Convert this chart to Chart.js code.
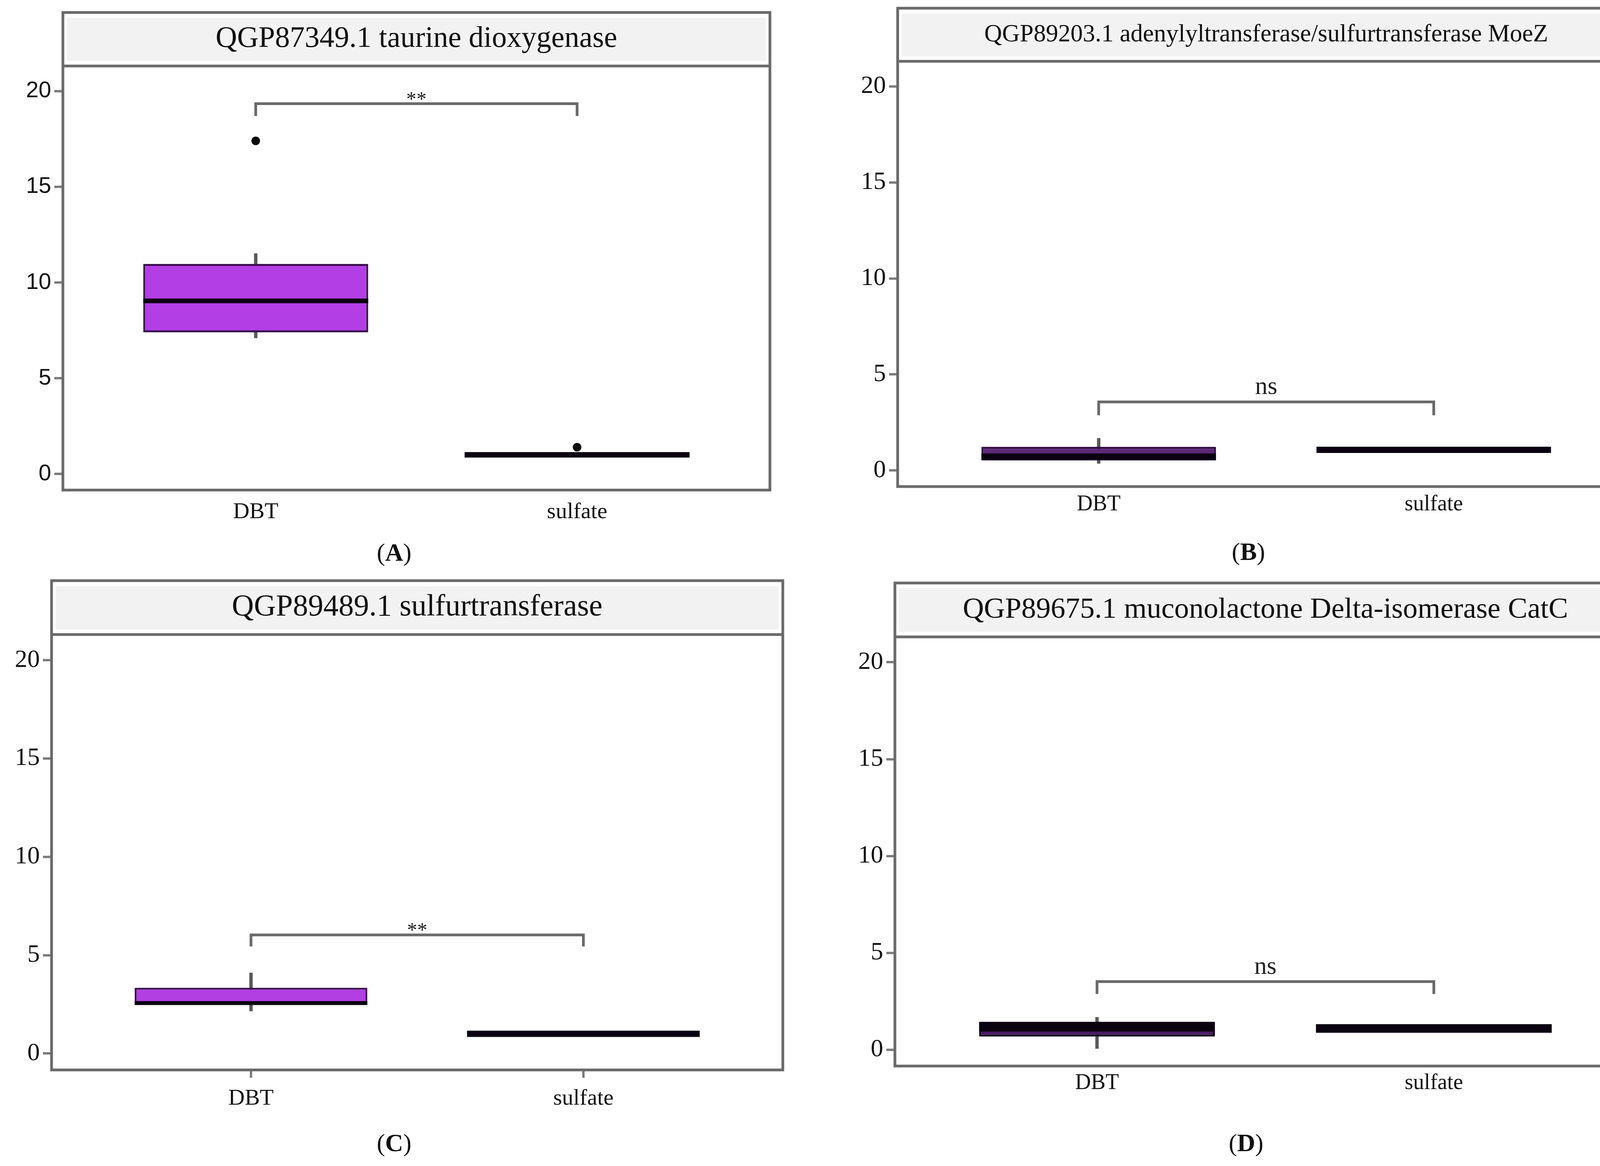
<!DOCTYPE html>
<html>
<head>
<meta charset="utf-8">
<script src="https://cdn.jsdelivr.net/npm/chart.js@4.4.1/dist/chart.umd.min.js"></script>
<style>
  html, body { margin: 0; padding: 0; background: #fff; }
  #page { position: relative; width: 4230px; height: 2986px; overflow: hidden; background: #fff; }
  canvas { position: absolute; }
  .tag { position: absolute; font-family: 'Liberation Serif', serif; font-size: 64px; color: #111;
         transform: translate(-50%, -50%); white-space: nowrap; }
</style>
</head>
<body>
<div id="page"></div>
<script>
// ---- data ----
const categories = ['DBT', 'sulfate'];
const panelTitles = [
  'QGP87349.1 taurine dioxygenase',
  'QGP89203.1 adenylyltransferase/sulfurtransferase MoeZ',
  'QGP89489.1 sulfurtransferase',
  'QGP89675.1 muconolactone Delta-isomerase CatC'
];
const panelLetters = ['A', 'B', 'C', 'D'];
const yTickValues = [0, 5, 10, 15, 20];

// one row per panel, one value per category [DBT, sulfate]
const q1Values     = [[7.40, 1.00], [0.52, 1.07], [2.50, 1.00], [0.68, 1.10]];
const q3Values     = [[10.97, 1.00], [1.23, 1.07], [3.34, 1.00], [1.45, 1.10]];
const medianValues = [[9.04, 1.00], [0.72, 1.07], [2.56, 1.00], [1.18, 1.10]];
const whiskerLow   = [[7.10, null], [0.36, null], [2.15, null], [0.06, null]];
const whiskerHigh  = [[11.52, null], [1.68, null], [4.10, null], [1.68, null]];
const outlierValues = [[[17.40], [1.40]], [[], []], [[], []], [[], []]];

const bracketTop = [19.34, 3.57, 6.03, 3.52];
const bracketLeg = [18.70, 2.87, 5.44, 2.88];
const sigLabels = ['**', 'ns', '**', 'ns'];

// ---- layout / style ----
const Y_MIN = -0.84, Y_MAX = 21.31;
const X_AXIS_H = 120;
const BOX_W = 0.7;
const serif = 'Liberation Serif';

const panels = [
  { L: 161, R: 1974, T: 32, S: 169, B: 1255, yW: 150, titleSize: 76, yFont: { family: 'Liberation Sans', size: 58 },
    xFont: 58, xPad: 22, xTick: 0, fill: '#b43ee6', edge: '#3b1050', medW: [12, 14], tag: [1009, 1415] },
  { L: 2298, R: 4185, T: 21, S: 157, B: 1246, yW: 150, titleSize: 63, yFont: { family: serif, size: 64 },
    xFont: 56, xPad: 13, xTick: 0, fill: '#5c2878', edge: '#2a0a40', medW: [16, 16], tag: [3196, 1413] },
  { L: 132, R: 2004, T: 1487, S: 1625, B: 2740, yW: 125, titleSize: 78, yFont: { family: serif, size: 64 },
    xFont: 58, xPad: 19, xTick: 20, fill: '#b23fe2', edge: '#3b1050', medW: [10, 16], tag: [1009, 2927] },
  { L: 2291, R: 4188, T: 1493, S: 1631, B: 2730, yW: 150, titleSize: 75, yFont: { family: serif, size: 64 },
    xFont: 56, xPad: 11, xTick: 0, fill: '#4a1a66', edge: '#0a0010', medW: [24, 22], tag: [3190, 2927] }
];

// strip behind the title and the grey frame round each panel
const panelFrame = {
  id: 'panelFrame',
  beforeDraw(chart) {
    const { ctx, chartArea: a } = chart;
    const tb = chart.titleBlock;
    ctx.save();
    ctx.fillStyle = '#f2f2f2';
    ctx.fillRect(a.left + 10, tb.top + 14, a.right - a.left - 20, tb.bottom - tb.top - 27);
    ctx.restore();
  },
  afterDraw(chart) {
    const { ctx, chartArea: a } = chart;
    const tb = chart.titleBlock;
    ctx.save();
    ctx.strokeStyle = '#6a6a6a';
    ctx.lineWidth = 7;
    ctx.strokeRect(a.left, tb.top, a.right - a.left, a.bottom - tb.top);
    ctx.beginPath();
    ctx.moveTo(a.left, a.top);
    ctx.lineTo(a.right, a.top);
    ctx.stroke();
    ctx.restore();
  }
};

// significance text above the bracket
const sigLabel = {
  id: 'sigLabel',
  afterDatasetsDraw(chart, args, opts) {
    const { ctx, scales: { x, y } } = chart;
    ctx.save();
    ctx.fillStyle = '#222';
    ctx.font = opts.size + 'px "' + serif + '"';
    ctx.textAlign = 'center';
    ctx.textBaseline = 'alphabetic';
    ctx.fillText(opts.text, x.getPixelForValue(1.5), y.getPixelForValue(opts.at) + opts.dy);
    ctx.restore();
  }
};

const halfBox = (chart) => {
  const x = chart.scales.x;
  return x.getPixelForValue(1 + BOX_W / 2) - x.getPixelForValue(1);
};

const page = document.getElementById('page');
const xs = categories.map((c, k) => k + 1);

panels.forEach((p, i) => {
  const width = p.R - p.L + p.yW + 8;
  const height = p.B - p.T + 6 + X_AXIS_H;
  const canvas = document.createElement('canvas');
  canvas.width = width;
  canvas.height = height;
  canvas.style.left = (p.L - p.yW) + 'px';
  canvas.style.top = (p.T - 6) + 'px';
  canvas.style.width = width + 'px';
  canvas.style.height = height + 'px';
  page.appendChild(canvas);

  const tag = document.createElement('div');
  tag.className = 'tag';
  tag.style.left = p.tag[0] + 'px';
  tag.style.top = p.tag[1] + 'px';
  tag.innerHTML = '(<b>' + panelLetters[i] + '</b>)';
  page.appendChild(tag);

  const stripPad = (p.S - p.T - p.titleSize) / 2;
  const isStars = sigLabels[i] === '**';

  new Chart(canvas, {
    type: 'bar',
    data: {
      datasets: [
        {
          type: 'scatter',
          data: xs.map((x, k) => ({ x, y: medianValues[i][k] })),
          pointStyle: 'line',
          pointRadius: (c) => halfBox(c.chart),
          pointHoverRadius: (c) => halfBox(c.chart),
          pointBorderWidth: (c) => p.medW[c.dataIndex],
          pointBorderColor: '#0a0010',
          pointBackgroundColor: 'rgba(0,0,0,0)'
        },
        {
          type: 'scatter',
          data: xs.flatMap((x, k) => outlierValues[i][k].map(v => ({ x, y: v }))),
          pointRadius: 11,
          pointBackgroundColor: '#0a0a0a',
          pointBorderWidth: 0
        },
        {
          type: 'line',
          data: [
            { x: 1, y: bracketLeg[i] }, { x: 1, y: bracketTop[i] },
            { x: 2, y: bracketTop[i] }, { x: 2, y: bracketLeg[i] }
          ],
          borderColor: '#6a6a6a',
          borderWidth: 7,
          pointRadius: 0,
          tension: 0,
          fill: false,
          borderJoinStyle: 'miter'
        },
        {
          type: 'bar',
          data: xs.map((x, k) => ({ x, y: [q1Values[i][k], q3Values[i][k]] })),
          backgroundColor: p.fill,
          borderColor: p.edge,
          borderWidth: 5,
          borderSkipped: false,
          grouped: false,
          categoryPercentage: 1,
          barPercentage: BOX_W
        },
        {
          type: 'bar',
          data: xs.filter((x, k) => whiskerLow[i][k] !== null)
                  .map(x => ({ x, y: [whiskerLow[i][x - 1], whiskerHigh[i][x - 1]] })),
          backgroundColor: '#5a5a5a',
          borderWidth: 0,
          grouped: false,
          barThickness: 8
        }
      ]
    },
    options: {
      responsive: false,
      animation: false,
      devicePixelRatio: 1,
      layout: { padding: { top: 6, right: 8, left: 0, bottom: 0 } },
      plugins: {
        legend: { display: false },
        tooltip: { enabled: false },
        title: {
          display: true,
          text: panelTitles[i],
          fullSize: false,
          color: '#111',
          font: { family: serif, size: p.titleSize, lineHeight: 1, weight: 'normal' },
          padding: { top: stripPad, bottom: stripPad }
        },
        sigLabel: {
          text: sigLabels[i],
          at: bracketTop[i],
          size: isStars ? 52 : 64,
          dy: isStars ? 5 : -20
        }
      },
      scales: {
        x: {
          type: 'linear',
          min: 0.4,
          max: 2.6,
          offset: false,
          afterBuildTicks: (s) => { s.ticks = xs.map(v => ({ value: v })); },
          afterFit: (s) => { s.height = X_AXIS_H; },
          ticks: {
            callback: (v) => categories[v - 1],
            padding: p.xPad,
            color: '#111',
            font: { family: serif, size: p.xFont },
            maxRotation: 0,
            autoSkip: false
          },
          grid: {
            offset: false,
            drawOnChartArea: false,
            drawTicks: p.xTick > 0,
            tickLength: p.xTick,
            tickWidth: 6,
            tickColor: '#7a7a7a'
          },
          border: { display: false }
        },
        y: {
          type: 'linear',
          min: Y_MIN,
          max: Y_MAX,
          afterBuildTicks: (s) => { s.ticks = yTickValues.map(v => ({ value: v })); },
          afterFit: (s) => { s.width = p.yW; },
          ticks: {
            callback: (v) => String(v),
            padding: 8,
            color: '#111',
            font: p.yFont
          },
          grid: {
            drawOnChartArea: false,
            drawTicks: true,
            tickLength: 22,
            tickWidth: 6,
            tickColor: '#7a7a7a'
          },
          border: { display: false }
        }
      }
    },
    plugins: [panelFrame, sigLabel]
  });
});
</script>
</body>
</html>
